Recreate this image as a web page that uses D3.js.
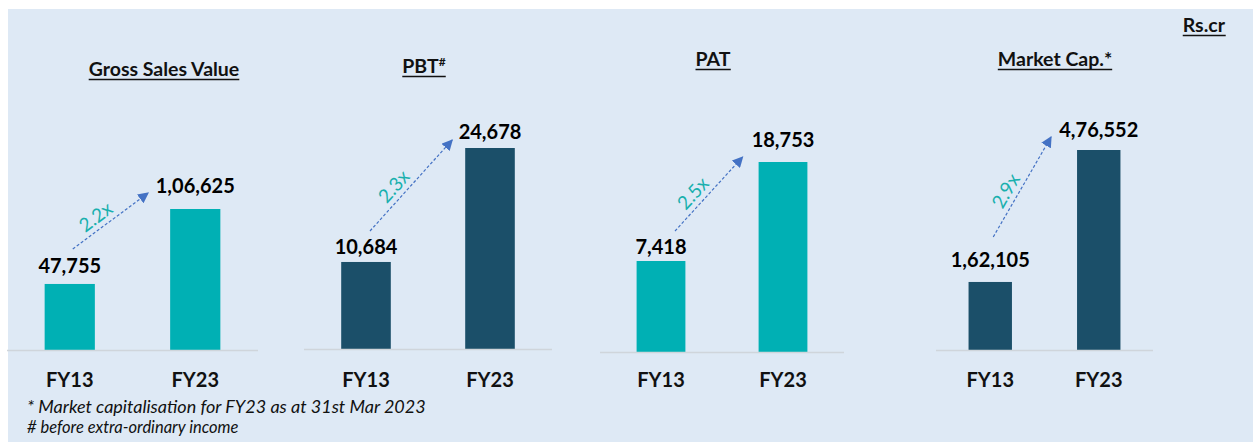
<!DOCTYPE html>
<html>
<head>
<meta charset="utf-8">
<script src="https://cdn.jsdelivr.net/npm/d3@7"></script>
<style>
  html, body { margin: 0; padding: 0; background: #ffffff; }
  svg { display: block; font-family: Lato, "Noto Sans", sans-serif; }
</style>
</head>
<body>
<div class="container"></div>
<script>
const WIDTH = 1253;
const HEIGHT = 442;

// data (Rs. crore)
const panelTitles = ["Gross Sales Value", "PBT", "PAT", "Market Cap."];
const titleMarks = ["", "#", "", "*"];
const years = ["FY13", "FY23"];
const fy13Values = [47755, 10684, 7418, 162105];
const fy23Values = [106625, 24678, 18753, 476552];
const growthLabels = ["2.2x", "2.3x", "2.5x", "2.9x"];
const unitLabel = "Rs.cr";
const footnotes = ["* Market capitalisation for FY23 as at 31st Mar 2023", "# before extra-ordinary income"];

const TEAL = "#00b0b4";
const NAVY = "#1b4f69";

// layout of each small chart
const panelLayout = [
  {x0: 7,   x1: 258,  base: 350, lo: -4100, top: 209, color: TEAL, titleX: 164,  titleY: 76, gaps: [11, 16], arrow: [3, -35, -22, -16]},
  {x0: 304, x1: 552,  base: 349, lo: 0,     top: 148, color: NAVY, titleX: 424,  titleY: 73, gaps: [8, 9],   arrow: [4, -31, -13, -8]},
  {x0: 600, x1: 844,  base: 352, lo: -3000, top: 162, color: TEAL, titleX: 713,  titleY: 66, gaps: [7, 15],  arrow: [14, -30, -16, -5]},
  {x0: 936, x1: 1153, base: 350, lo: 0,     top: 150, color: NAVY, titleX: 1055, titleY: 66, gaps: [15, 13], arrow: [3, -45, -26, -13]}
];

// indian digit grouping: 1,06,625
var formatIN = function(v){
    var s = String(Math.round(v));
    if (s.length <= 3) return s;
    var last = s.slice(-3);
    var rest = s.slice(0, -3).replace(/\B(?=(\d{2})+(?!\d))/g, ",");
    return rest + "," + last;
};

var svg = d3.select(".container").append("svg")
    .attr("width", WIDTH)
    .attr("height", HEIGHT);

svg.append("defs").append("marker")
    .attr("id", "head")
    .attr("viewBox", "0 0 10 10")
    .attr("refX", 9).attr("refY", 5)
    .attr("markerWidth", 11).attr("markerHeight", 11)
    .attr("markerUnits", "userSpaceOnUse")
    .attr("orient", "auto")
  .append("path")
    .attr("d", "M0,0 L10,5 L0,10 z")
    .attr("fill", "#4472c4");

svg.append("rect")
    .attr("x", 8).attr("y", 9)
    .attr("width", WIDTH - 8).attr("height", HEIGHT - 9)
    .attr("fill", "#dee9f5");

var underline = function(textSel, offset){
    var b = textSel.node().getBBox();
    var y = +textSel.attr("y") + offset;
    svg.append("line")
        .attr("x1", b.x).attr("x2", b.x + b.width)
        .attr("y1", y).attr("y2", y)
        .attr("stroke", "#111").attr("stroke-width", 1.5);
};

var drawPanel = function(i){
    var L = panelLayout[i];
    var vals = [fy13Values[i], fy23Values[i]];
    var rows = years.map(function(y, k){ return {year: y, value: vals[k], gap: L.gaps[k]}; });

    var x = d3.scaleBand().domain(years)
        .range([L.x0, L.x1])
        .paddingInner(0.6).paddingOuter(0.3);
    var y = d3.scaleLinear().domain([L.lo, vals[1]]).range([L.base, L.top]);

    var g = svg.append("g");

    g.selectAll("rect.bar").data(rows).enter().append("rect")
        .attr("class", "bar")
        .attr("x", function(d){ return x(d.year); })
        .attr("width", x.bandwidth())
        .attr("y", function(d){ return y(d.value); })
        .attr("height", function(d){ return L.base - y(d.value); })
        .attr("fill", L.color);

    g.append("line")
        .attr("x1", L.x0).attr("x2", L.x1)
        .attr("y1", L.base + 0.5).attr("y2", L.base + 0.5)
        .attr("stroke", "#cfd5db").attr("stroke-width", 1.6);

    g.selectAll("text.val").data(rows).enter().append("text")
        .attr("class", "val")
        .attr("x", function(d){ return x(d.year) + x.bandwidth() / 2; })
        .attr("y", function(d){ return y(d.value) - d.gap; })
        .attr("text-anchor", "middle")
        .attr("font-weight", 700).attr("font-size", 20)
        .attr("fill", "#000")
        .text(function(d){ return formatIN(d.value); });

    g.selectAll("text.cat").data(rows).enter().append("text")
        .attr("class", "cat")
        .attr("x", function(d){ return x(d.year) + x.bandwidth() / 2; })
        .attr("y", 387)
        .attr("text-anchor", "middle")
        .attr("font-weight", 700).attr("font-size", 20)
        .attr("fill", "#111")
        .text(function(d){ return d.year; });

    // title
    var t = svg.append("text")
        .attr("x", L.titleX).attr("y", L.titleY)
        .attr("text-anchor", "middle")
        .attr("font-weight", 700).attr("font-size", 19.5)
        .attr("fill", "#111");
    t.append("tspan").text(panelTitles[i]);
    if (titleMarks[i] === "#") {
        t.append("tspan").attr("font-size", 12).attr("dy", -7).text(titleMarks[i]);
    } else if (titleMarks[i]) {
        t.append("tspan").text(titleMarks[i]);
    }
    underline(t, 3.5);

    // growth arrow
    var a = L.arrow;
    var sx = x("FY13") + x.bandwidth() / 2 + a[0], sy = y(vals[0]) + a[1];
    var ex = x("FY23") + a[2], ey = y(vals[1]) + a[3];
    g.append("line")
        .attr("x1", sx).attr("y1", sy).attr("x2", ex).attr("y2", ey)
        .attr("stroke", "#4472c4").attr("stroke-width", 1.2)
        .attr("stroke-dasharray", "3,2")
        .attr("marker-end", "url(#head)");

    var dx = ex - sx, dy = ey - sy, len = Math.sqrt(dx * dx + dy * dy);
    var ux = dx / len, uy = dy / len;
    var px = uy, py = -ux; // perpendicular, upper-left side
    var cx = sx + ux * len * 0.4 + px * 13;
    var cy = sy + uy * len * 0.4 + py * 13;
    var ang = Math.atan2(dy, dx) * 180 / Math.PI;
    g.append("text")
        .attr("transform", "translate(" + cx + "," + cy + ") rotate(" + ang + ")")
        .attr("text-anchor", "middle")
        .attr("dominant-baseline", "central")
        .attr("font-size", 19)
        .attr("fill", "#19b0ae")
        .text(growthLabels[i]);
};

for (var i = 0; i < panelTitles.length; i++) {
    drawPanel(i);
}

var u = svg.append("text")
    .attr("x", 1225).attr("y", 32)
    .attr("text-anchor", "end")
    .attr("font-weight", 700).attr("font-size", 19.5)
    .attr("fill", "#111")
    .text(unitLabel);
underline(u, 3.5);

svg.append("text")
    .attr("x", 27).attr("y", 413)
    .attr("font-style", "italic").attr("font-size", 18)
    .attr("fill", "#111")
    .text(footnotes[0]);

svg.append("text")
    .attr("x", 27).attr("y", 433)
    .attr("font-style", "italic").attr("font-size", 16.5)
    .attr("fill", "#111")
    .text(footnotes[1]);
</script>
</body>
</html>
